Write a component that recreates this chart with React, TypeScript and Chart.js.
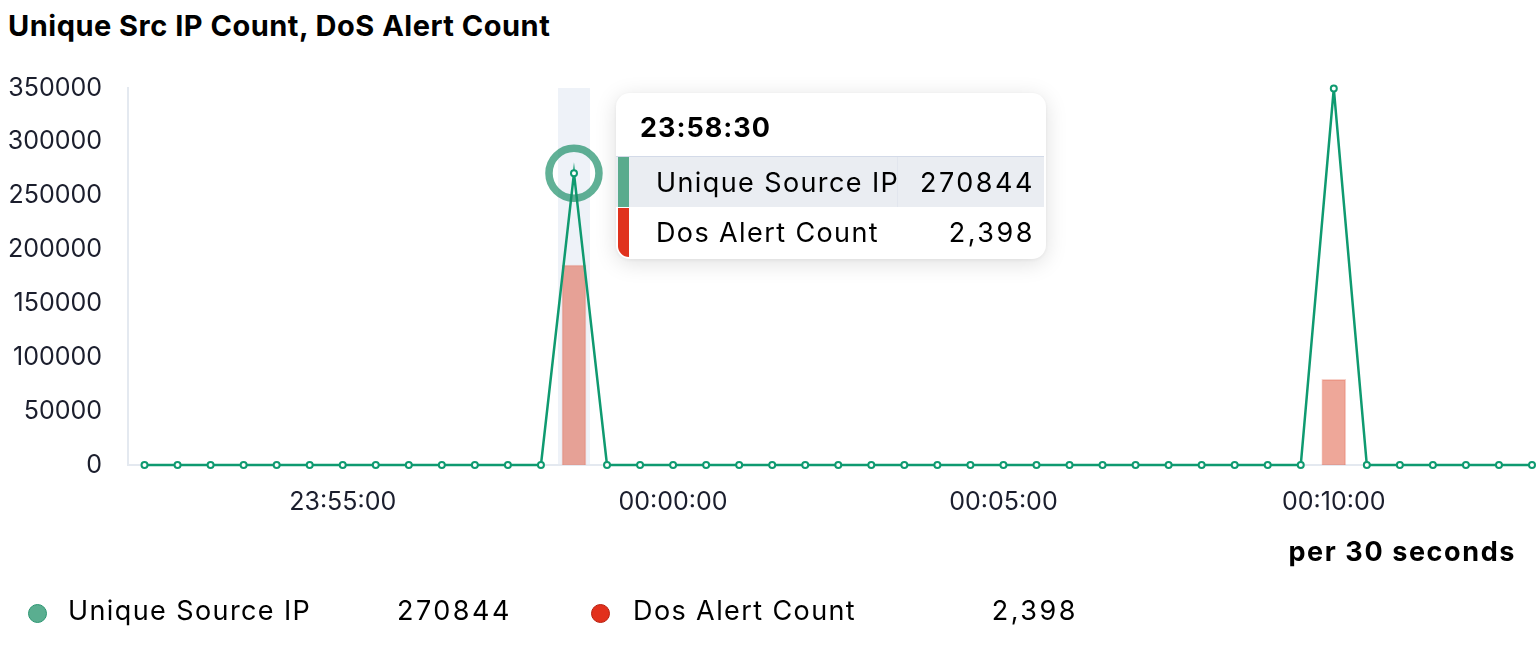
import React, { useEffect, useRef, useState } from "react";
import { Chart, registerables } from "chart.js";

Chart.register(...registerables);

const chartTitle = "Unique Src IP Count, DoS Alert Count";
const intervalLabel = "per 30 seconds";
const seriesNames = ["Unique Source IP", "Dos Alert Count"];

const timeLabels = [
  "23:52:00", "23:52:30", "23:53:00", "23:53:30", "23:54:00", "23:54:30",
  "23:55:00", "23:55:30", "23:56:00", "23:56:30", "23:57:00", "23:57:30",
  "23:58:00", "23:58:30", "23:59:00", "23:59:30", "00:00:00", "00:00:30",
  "00:01:00", "00:01:30", "00:02:00", "00:02:30", "00:03:00", "00:03:30",
  "00:04:00", "00:04:30", "00:05:00", "00:05:30", "00:06:00", "00:06:30",
  "00:07:00", "00:07:30", "00:08:00", "00:08:30", "00:09:00", "00:09:30",
  "00:10:00", "00:10:30", "00:11:00", "00:11:30", "00:12:00", "00:12:30",
  "00:13:00",
];

const uniqueSourceIp = [
  0, 0, 0, 0, 0, 0, 0, 0, 0, 0, 0, 0, 0, 270844, 0, 0, 0, 0, 0, 0, 0, 0,
  0, 0, 0, 0, 0, 0, 0, 0, 0, 0, 0, 0, 0, 0, 349500, 0, 0, 0, 0, 0, 0,
];

const dosAlertCount = [
  null, null, null, null, null, null, null, null, null, null, null, null, null, 2398,
  null, null, null, null, null, null, null, null, null, null, null, null, null, null,
  null, null, null, null, null, null, null, null, 1027, null, null, null, null, null, null,
];

const xTickLabels = ["23:55:00", "00:00:00", "00:05:00", "00:10:00"];
const yMax = 350000;
const yStep = 50000;
const alertAxisMax = 4520;
const activeIndex = 13;

const GREEN = "#0f9a70";
const FONT = "Inter, 'Noto Sans', sans-serif";

const textStyle: React.CSSProperties = {
  position: "absolute",
  fontSize: 27,
  lineHeight: "34px",
  letterSpacing: 1.4,
  whiteSpace: "nowrap",
};
const numStyle: React.CSSProperties = {
  position: "absolute",
  fontSize: 27,
  lineHeight: "34px",
  letterSpacing: 2.5,
  whiteSpace: "nowrap",
};

export default function App() {
  const canvasRef = useRef<HTMLCanvasElement | null>(null);
  const [tipX, setTipX] = useState<number>(573);

  useEffect(() => {
    const canvas = canvasRef.current;
    if (!canvas) return;
    Chart.defaults.font.family = FONT;

    const highlightPlugin = {
      id: "hoverHighlight",
      beforeDatasetsDraw(chart: any) {
        const { ctx, chartArea, scales } = chart;
        const x = scales.x.getPixelForValue(activeIndex);
        ctx.save();
        ctx.fillStyle = "#eef2f8";
        ctx.fillRect(x - 16, chartArea.top, 32, chartArea.bottom - chartArea.top - 1);
        ctx.restore();
      },
      afterDatasetsDraw(chart: any) {
        const meta = chart.getDatasetMeta(0);
        const pt = meta.data[activeIndex];
        if (!pt) return;
        const { ctx } = chart;
        ctx.save();
        ctx.beginPath();
        ctx.arc(pt.x, pt.y, 25, 0, Math.PI * 2);
        ctx.lineWidth = 7.5;
        ctx.strokeStyle = "rgba(22,140,100,0.68)";
        ctx.stroke();
        ctx.restore();
      },
    };

    const chart = new Chart(canvas, {
      type: "bar",
      data: {
        labels: timeLabels,
        datasets: [
          {
            type: "line",
            label: seriesNames[0],
            data: uniqueSourceIp,
            yAxisID: "y",
            borderColor: GREEN,
            borderWidth: 2.5,
            pointRadius: 3,
            pointBorderWidth: 2,
            pointBackgroundColor: "#ffffff",
            pointBorderColor: GREEN,
            tension: 0,
            clip: false,
            order: 0,
          } as any,
          {
            type: "bar",
            label: seriesNames[1],
            data: dosAlertCount,
            yAxisID: "y1",
            backgroundColor: "rgba(222,80,52,0.5)",
            borderColor: "rgba(222,80,52,0.25)",
            borderWidth: 1,
            barThickness: 24,
            order: 1,
          } as any,
        ],
      },
      options: {
        responsive: false,
        devicePixelRatio: 1,
        animation: false,
        events: [],
        layout: { autoPadding: false, padding: { top: 88, bottom: 0, left: 0, right: 0 } },
        plugins: {
          legend: { display: false },
          title: { display: false },
          tooltip: { enabled: false },
        },
        scales: {
          x: {
            type: "category",
            offset: true,
            grid: { display: false, drawTicks: false },
            border: { display: true, color: "#e4e9f0", width: 2 },
            ticks: {
              autoSkip: false,
              maxRotation: 0,
              minRotation: 0,
              padding: 22,
              color: "#1b1e2d",
              font: { size: 25, family: FONT },
              callback: (v: any, i: number) =>
                xTickLabels.includes(timeLabels[i]) ? timeLabels[i] : "",
            },
            afterFit: (s: any) => {
              s.height = 195;
            },
          },
          y: {
            position: "left",
            min: 0,
            max: yMax,
            grid: { display: false, drawTicks: false },
            border: { display: true, color: "#e4e9f0", width: 2 },
            ticks: {
              stepSize: yStep,
              padding: 26,
              color: "#1b1e2d",
              font: { size: 25, family: FONT },
              callback: (v: any) => String(v),
            },
            afterFit: (s: any) => {
              s.width = 128;
            },
          },
          y1: {
            position: "right",
            display: false,
            min: 0,
            max: alertAxisMax,
          },
        },
      },
      plugins: [highlightPlugin],
    });

    setTipX(chart.scales.x.getPixelForValue(activeIndex));

    return () => {
      chart.destroy();
    };
  }, []);

  const ipVal = String(uniqueSourceIp[activeIndex]);
  const dosVal = (dosAlertCount[activeIndex] ?? 0).toLocaleString("en-US");

  return (
    <div
      style={{
        position: "fixed",
        left: 0,
        top: 0,
        width: 1536,
        height: 660,
        overflow: "hidden",
        background: "#ffffff",
        fontFamily: FONT,
        color: "#000",
      }}
    >
      <div
        style={{
          position: "absolute",
          left: 8,
          top: 9,
          fontSize: 29,
          fontWeight: 700,
          lineHeight: "34px",
          letterSpacing: 0.5,
          whiteSpace: "nowrap",
        }}
      >
        {chartTitle}
      </div>

      <canvas
        ref={canvasRef}
        width={1554}
        height={660}
        style={{ position: "absolute", left: 0, top: 0, width: 1554, height: 660 }}
      />

      {/* Tooltip */}
      <div
        style={{
          position: "absolute",
          left: tipX + 42,
          top: 93,
          width: 430,
          height: 166,
          background: "#ffffff",
          borderRadius: 14,
          boxShadow: "0 4px 22px rgba(0,0,0,0.13), 0 1px 4px rgba(0,0,0,0.06)",
          overflow: "hidden",
        }}
      >
        <div
          style={{
            position: "absolute",
            left: 24,
            top: 18,
            fontSize: 27,
            fontWeight: 700,
            lineHeight: "34px",
            letterSpacing: 1,
          }}
        >
          23:58:30
        </div>
        <div style={{ position: "absolute", left: 0, right: 2, top: 63, height: 1, background: "#d3dae8" }} />
        <div style={{ position: "absolute", left: 0, right: 2, top: 64, height: 50, background: "#eaedf2" }} />
        <div style={{ position: "absolute", left: 281, top: 64, width: 1, height: 50, background: "#e2e6ee" }} />
        <div style={{ position: "absolute", left: 2, top: 64, width: 11, height: 50, background: "#5aab8d" }} />
        <div style={{ position: "absolute", left: 2, top: 115, width: 11, height: 49, background: "#e0321d", borderBottomLeftRadius: 12 }} />
        <div style={{ ...textStyle, left: 40, top: 73 }}>{seriesNames[0]}</div>
        <div style={{ ...numStyle, right: 11, top: 73 }}>{ipVal}</div>
        <div style={{ ...textStyle, left: 40, top: 123 }}>{seriesNames[1]}</div>
        <div style={{ ...numStyle, right: 11, top: 123 }}>{dosVal}</div>
      </div>

      <div
        style={{
          position: "absolute",
          right: 20,
          top: 535,
          fontSize: 27,
          fontWeight: 700,
          lineHeight: "34px",
          letterSpacing: 1.6,
          whiteSpace: "nowrap",
        }}
      >
        {intervalLabel}
      </div>

      {/* Legend */}
      <div style={{ position: "absolute", left: 28, top: 604, width: 19, height: 19, borderRadius: "50%", background: "#5aae90", border: "1px solid #2c9672", boxSizing: "border-box" }} />
      <div style={{ ...textStyle, left: 68, top: 594 }}>{seriesNames[0]}</div>
      <div style={{ ...numStyle, left: 397, top: 594 }}>{ipVal}</div>
      <div style={{ position: "absolute", left: 591, top: 604, width: 19, height: 19, borderRadius: "50%", background: "#e2301c", border: "1px solid #b82010", boxSizing: "border-box" }} />
      <div style={{ ...textStyle, left: 633, top: 594 }}>{seriesNames[1]}</div>
      <div style={{ ...numStyle, right: 1536 - 1078, top: 594, textAlign: "right" }}>{dosVal}</div>
    </div>
  );
}
